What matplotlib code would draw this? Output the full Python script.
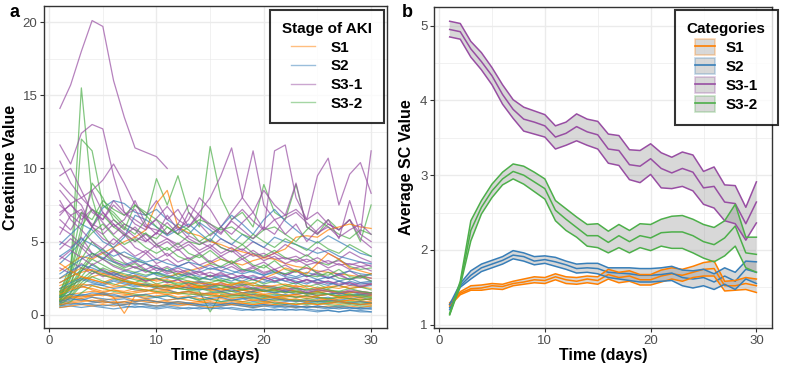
import matplotlib.pyplot as plt
import numpy as np
from matplotlib.lines import Line2D
from matplotlib.patches import Patch
from matplotlib.ticker import MultipleLocator

plt.rcParams['font.family'] = ['Liberation Sans', 'DejaVu Sans']

days = list(range(1, 31))
stages = ["S1", "S2", "S3-1", "S3-2"]
colors = {"S1": "#FF7F00", "S2": "#377EB8", "S3-1": "#984EA3", "S3-2": "#4DAF4A"}

# panel a: creatinine per patient, one row per patient
s1_pat = [
    "1.2 1.4 1.5 1.6 1.5 1.7 1.6 1.8 1.7 1.6 1.7 1.5 1.6 1.5 1.4 1.5 1.4 1.3 1.4 1.3 1.2 1.3 1.2 1.3 1.2 1.1 1.2 1.1 1.0 1.1",
    "0.8 0.9 1.0 0.9 0.8 0.9 0.8 0.9 1.0 0.9 0.8 0.9 0.8 0.9 0.8 0.8 0.9 0.8 0.7 0.8 0.7 0.8 0.7 0.8 0.7 0.8 0.7 0.8 0.7 0.7",
    "2.0 2.3 2.6 2.4 2.2 2.5 2.3 2.1 2.0 1.9 2.1 2.0 1.8 1.9 1.7 1.8 1.9 1.7 1.6 1.8 1.7 1.9 2.0 1.8 1.7 1.9 1.8 2.0 1.9 1.8",
    "1.5 1.8 2.0 1.7 1.5 1.2 0.1 1.3 1.4 1.5 1.6 1.4 1.5 1.3 1.4 1.2 1.3 1.4 1.2 1.3 1.1 1.2 1.3 1.1 1.2 1.0 1.1 1.2 1.0 1.1",
    "3.0 3.5 4.0 3.8 4.2 4.6 5.0 5.3 5.8 7.6 8.5 6.0 5.6 5.4 5.0 4.8 4.5 4.3 4.1 3.9 3.8 3.5 3.3 3.2 3.0 2.9 2.8 2.7 2.6 2.5",
    "1.8 2.0 2.4 2.6 2.8 3.0 2.7 2.5 2.3 2.4 2.6 2.8 3.0 3.2 3.5 3.8 3.6 3.4 3.7 3.9 4.2 4.5 5.3 5.4 5.3 5.8 6.0 6.2 6.0 5.9",
    "0.5 0.6 0.7 0.6 0.7 0.6 0.7 0.8 0.7 0.6 0.7 0.6 0.7 0.6 0.5 0.6 0.7 0.6 0.5 0.6 0.7 0.6 0.5 0.6 0.5 0.6 0.5 0.6 0.5 0.6",
    "1.0 1.2 1.1 1.3 1.4 1.2 1.3 1.5 1.6 1.8 1.7 1.9 2.0 1.8 1.7 1.6 1.8 1.5 1.6 1.4 1.5 1.3 1.4 1.5 1.3 1.4 1.2 1.3 1.4 1.3",
    "2.5 2.8 3.2 3.0 2.7 2.5 2.3 2.2 2.0 2.1 1.9 2.0 1.8 1.9 1.7 1.8 1.6 1.7 1.5 1.6 1.7 1.5 1.6 1.4 1.5 1.6 1.4 1.5 1.6 1.5",
    "0.9 1.1 1.3 1.2 1.0 1.1 1.2 1.0 1.1 0.9 1.0 1.1 1.0 0.9 1.0 1.1 1.0 0.9 1.0 0.9 1.0 1.1 0.9 1.0 0.9 1.0 0.9 1.0 0.9 0.9",
    "1.6 1.9 2.1 2.0 1.8 1.9 2.0 2.2 2.1 1.9 2.0 1.8 1.9 2.0 1.8 1.7 1.8 1.9 1.7 1.6 1.7 1.8 1.6 1.5 1.6 1.7 1.5 1.6 1.5 1.4",
    "1.1 1.3 1.2 1.4 1.3 1.5 1.4 1.3 1.2 1.3 1.4 1.2 1.3 1.1 1.2 1.3 1.1 1.2 1.0 1.1 1.2 1.0 1.1 0.9 1.0 1.1 0.9 1.0 1.1 1.0",
    "2.2 2.6 2.9 3.1 2.8 2.6 2.4 2.7 2.5 2.3 2.4 2.2 2.3 2.1 2.2 2.0 2.1 2.2 2.0 1.9 2.0 2.1 1.9 2.0 1.8 1.9 2.0 1.8 1.9 2.1",
    "0.7 0.8 0.9 1.0 0.9 0.8 0.9 1.0 0.9 0.8 0.9 0.8 0.7 0.8 0.9 0.8 0.7 0.8 0.7 0.8 0.9 0.8 0.7 0.8 0.7 0.8 0.9 0.8 0.7 0.8",
    "1.4 1.7 1.9 1.8 1.6 1.7 1.5 1.6 1.7 1.5 1.4 1.5 1.6 1.4 1.5 1.3 1.4 1.5 1.3 1.4 1.2 1.3 1.4 1.2 1.3 1.4 1.2 1.3 1.2 1.3",
    "3.5 3.0 2.6 2.4 2.2 2.0 2.3 2.1 1.9 2.0 1.8 1.9 2.1 1.9 2.0 2.2 2.0 2.3 2.1 2.5 2.8 3.2 3.0 2.8 3.5 4.2 3.8 3.2 3.0 2.8",
]
s2_pat = [
    "0.5 0.6 0.5 0.6 0.5 0.4 0.5 0.6 0.5 0.4 0.5 0.4 0.5 0.4 0.5 0.4 0.5 0.4 0.3 0.4 0.3 0.4 0.3 0.4 0.3 0.3 0.2 0.3 0.2 0.2",
    "1.3 1.6 1.9 2.1 2.0 1.8 1.9 1.7 1.6 1.8 1.7 1.5 1.6 1.4 1.5 1.6 1.4 1.3 1.4 1.2 1.3 1.4 1.2 1.3 1.1 1.2 1.0 1.1 1.2 1.0",
    "3.5 4.2 5.0 6.0 7.3 7.8 7.6 7.0 6.8 7.2 6.5 6.0 5.5 6.3 5.8 5.2 4.8 5.5 5.0 4.6 5.3 5.0 4.8 4.5 4.2 4.4 4.0 3.8 3.6 3.5",
    "0.8 1.0 1.1 0.9 1.0 0.8 0.9 0.7 0.8 0.9 0.8 0.7 0.8 0.7 0.6 0.7 0.8 0.7 0.6 0.7 0.6 0.5 0.6 0.5 0.6 0.5 0.4 0.5 0.4 0.4",
    "2.2 2.6 3.0 3.4 3.0 2.8 2.6 2.9 3.1 2.7 2.5 2.8 2.6 2.4 2.7 2.5 2.3 2.6 2.4 2.2 2.5 2.3 2.1 2.4 2.2 2.0 2.3 2.1 1.9 2.0",
    "4.8 5.5 6.2 5.8 5.0 4.6 5.3 6.8 6.5 6.0 5.4 5.8 6.2 5.6 5.0 6.0 6.8 6.2 5.5 6.5 7.2 6.4 5.8 5.2 4.9 5.4 5.0 4.6 4.2 4.0",
    "1.0 1.2 1.4 1.3 1.5 1.4 1.2 1.3 1.1 1.2 1.0 1.1 1.2 1.0 1.1 0.9 1.0 1.1 0.9 1.0 0.8 0.9 1.0 0.8 0.9 0.8 0.9 0.8 0.7 0.8",
    "1.6 2.0 2.4 2.2 2.0 2.3 2.1 1.9 2.0 1.8 1.9 2.0 1.8 1.7 1.9 1.8 1.6 1.7 1.8 1.6 1.5 1.7 1.6 1.5 1.6 1.4 1.5 1.6 1.4 1.5",
    "0.7 0.8 0.7 0.8 0.9 0.8 0.7 0.8 0.7 0.6 0.7 0.8 0.7 0.6 0.7 0.6 0.7 0.6 0.5 0.6 0.5 0.6 0.5 0.6 0.5 0.4 0.5 0.4 0.5 0.4",
    "2.8 3.3 3.8 4.2 3.9 3.6 3.4 3.7 3.5 3.2 3.0 3.3 3.1 2.9 3.2 3.0 2.8 3.1 2.9 2.7 3.0 2.8 2.6 2.9 2.7 2.5 2.8 3.0 2.8 2.7",
    "0.6 0.7 0.8 0.7 0.6 0.7 0.6 0.5 0.6 0.5 0.6 0.5 0.4 0.5 0.4 0.5 0.4 0.3 0.4 0.3 0.4 0.3 0.4 0.3 0.2 0.3 0.2 0.3 0.3 0.2",
    "1.8 2.2 2.5 2.3 2.1 2.4 2.2 2.0 2.1 1.9 2.0 1.8 1.9 1.7 1.8 1.6 1.7 1.5 1.6 1.7 1.5 1.6 1.4 1.5 1.3 1.4 1.5 1.3 1.4 1.3",
    "1.2 1.4 1.3 1.5 1.4 1.3 1.2 1.3 1.4 1.2 1.3 1.1 1.2 1.3 1.1 1.2 1.0 1.1 1.2 1.0 1.1 1.0 0.9 1.0 0.9 1.0 0.9 0.8 0.9 0.8",
    "4.0 4.5 5.2 4.8 4.4 4.0 4.3 3.9 3.6 3.8 3.5 3.3 3.6 3.4 3.1 3.3 3.0 2.8 3.0 2.7 2.9 2.6 2.5 2.7 2.4 2.6 2.3 2.5 2.2 2.3",
    "0.9 1.1 1.0 1.2 1.1 1.0 1.1 0.9 1.0 0.9 0.8 0.9 0.8 0.7 0.8 0.7 0.8 0.7 0.6 0.7 0.6 0.7 0.6 0.5 0.6 0.5 0.6 0.5 0.4 0.5",
    "2.5 3.0 3.4 3.2 2.9 2.7 3.0 2.8 2.6 2.9 2.7 2.5 2.8 2.6 2.4 2.7 2.5 2.3 2.6 2.4 2.2 2.5 2.3 2.1 2.4 2.2 2.0 2.3 2.1 2.2",
]
s31_pat = [
    "14.1 15.7 18.0 20.1 19.7 16.0 13.5 11.4 11.1 10.8 10.0",
    "11.6 10.3 12.4 13.0 12.7 9.5 7.0 6.5 6.0 5.8 5.5 6.0 5.2 4.8 5.1 4.6 4.3 4.5 4.0 4.2 3.8 3.9 3.6 3.8 3.5 3.7 3.4 3.5 3.3 3.4",
    "7.0 7.5 6.8 6.2 5.8 6.5 5.9 5.3 5.0 5.6 5.2 4.8 5.4 5.0 4.6 5.2 4.8 4.4 5.0 4.6 4.2 4.8 4.4 4.0 4.6 4.2 3.8 4.3 3.9 3.6",
    "10.5 9.0 8.0 8.5 9.2 10.3 9.0 7.5 6.8 7.8 6.5 7.2 6.0 7.0 8.0 9.5 11.4 8.0 7.0 8.5 7.5 6.8 7.2 6.5 7.0 6.2 5.8 6.5 5.5 5.0",
    "6.0 5.5 4.8 4.2 3.8 4.5 3.6 3.2 3.5 3.0 3.3 2.9 3.1 2.7 2.9 2.6 2.8 2.5 2.7 2.4 2.6 2.3 2.5 2.2 2.4 2.1 2.3 2.0 2.2 2.1",
    "8.5 7.6 6.5 7.2 6.3 5.5 6.2 5.8 5.0 5.6 6.3 5.5 7.0 6.2 5.4 6.0 7.0 8.0 11.2 7.5 6.5 6.8 9.0 6.0 5.5 6.2 5.8 6.5 5.2 4.6",
    "5.0 4.6 5.3 4.2 3.8 4.4 4.0 3.6 4.2 3.5 3.8 3.3 3.6 3.1 3.4 3.0 3.3 2.9 3.2 2.8 3.1 2.7 3.0 2.6 2.9 2.5 2.8 2.4 2.7 2.5",
    "9.5 10.0 8.5 7.0 6.5 7.5 6.8 7.2 6.0 6.5 5.5 6.2 7.5 6.8 6.0 5.5 6.5 7.2 6.4 5.8 11.2 11.6 8.0 6.5 9.5 10.7 7.5 9.6 10.4 8.3",
    "6.5 5.8 7.0 6.0 5.2 4.8 5.5 4.6 4.2 4.8 4.0 4.5 3.8 4.2 3.6 4.0 3.5 3.8 3.3 3.6 3.1 3.4 3.0 3.2 2.9 3.1 2.7 3.0 2.6 2.8",
    "4.0 3.6 3.2 2.8 3.1 2.7 2.4 2.6 2.3 2.5 2.2 2.4 2.1 2.3 2.0 2.2 1.9 2.1 1.8 2.0 1.9 1.7 1.9 1.6 1.8 1.7 1.5 1.7 1.6 1.5",
    "7.5 6.8 6.2 8.5 7.0 6.0 6.5 7.8 6.2 5.5 6.8 5.8 6.5 8.0 7.2 6.0 5.5 6.3 7.0 5.8 6.5 5.5 6.2 5.0 5.8 6.5 5.2 7.8 5.5 11.2",
    "3.2 2.8 3.5 3.0 2.6 2.9 2.5 2.7 2.3 2.5 2.2 2.4 2.0 2.2 1.9 2.1 1.8 2.0 1.7 1.9 1.8 1.6 1.8 1.5 1.7 1.6 1.4 1.6 1.5 1.4",
    "7.8 6.5 5.8 5.0 4.5 5.2 4.6 4.0 4.4 3.8 4.2 3.6 3.9 3.4 3.7 3.2 3.5 3.0 3.3 2.9 3.1 2.7 3.0 2.6 2.8 2.5 2.7 2.4 2.6 2.3",
    "5.5 6.8 7.2 6.0 5.5 6.2 5.6 5.0 5.5 4.8 5.2 4.6 5.0 4.4 4.8 4.2 4.6 4.0 4.4 3.9 4.2 3.8 4.0 3.6 3.9 3.5 3.7 3.4 3.6 3.3",
    "9.0 8.2 7.5 6.0 7.0 6.2 5.4 6.0 5.2 4.6 5.0 4.4 4.8 4.2 4.6 4.0 4.4 3.8 4.2 3.7 4.0 3.5 3.8 3.4 3.6 3.2 3.5 3.1 3.3 3.0",
    "4.5 5.2 4.6 3.9 4.3 3.7 3.3 3.6 3.1 3.4 2.9 3.2 2.8 3.0 2.6 2.9 2.5 2.7 2.4 2.6 2.3 2.5 2.2 2.4 2.1 2.3 2.0 2.2 1.9 2.1",
    "6.8 7.6 8.0 7.2 6.5 7.8 7.0 6.2 5.8 6.6 7.4 6.5 6.0 6.8 6.2 5.6 6.4 5.8 5.2 6.0 5.5 6.6 7.0 6.3 5.6 6.0 5.3 5.8 6.2 5.5",
    "3.8 4.4 3.9 3.4 3.8 3.3 3.0 3.3 2.9 3.2 2.8 3.0 2.7 2.9 2.6 2.8 2.5 2.7 2.4 2.6 2.3 2.5 2.2 2.4 2.2 2.3 2.1 2.2 2.0 2.1",
]
s32_pat = [
    "1.0 3.0 15.5 8.0 5.5 4.5 4.0 3.8 3.5 3.2 3.0 2.8 2.6 2.5 2.4 2.3 2.2 2.1 2.0 2.0 1.9 1.8 1.8 1.7 1.7 1.6 1.6 1.5 1.5 1.5",
    "1.2 2.5 12.0 11.2 7.5 6.8 6.0 5.5 6.5 9.3 7.5 9.5 7.0 6.0 11.5 8.0 6.5 7.0 6.0 8.9 7.0 6.5 8.9 6.0 5.5 6.5 5.8 6.5 5.0 7.5",
    "0.8 1.5 3.0 4.0 4.5 3.8 3.5 3.2 3.0 2.8 2.6 2.5 2.3 2.2 2.1 2.0 1.9 1.8 1.8 1.7 1.6 1.6 1.5 1.5 1.4 1.4 1.3 1.3 1.2 1.2",
    "1.1 2.0 4.5 6.0 7.5 7.0 6.2 5.8 5.5 5.2 6.0 5.5 5.0 4.8 5.2 4.6 4.3 4.8 4.2 4.0 4.4 3.9 3.7 4.1 3.6 3.4 3.8 3.3 3.1 3.2",
    "0.9 1.3 2.2 2.8 3.2 2.9 2.6 2.4 2.2 2.0 1.9 1.8 1.7 1.6 0.2 1.4 1.3 1.3 1.2 1.2 1.2 1.1 1.0 1.1 1.0 0.9 1.0 0.9 0.9 0.8",
    "1.4 2.8 5.5 9.0 8.0 6.5 5.8 7.5 6.8 6.0 5.5 6.2 5.8 5.0 5.5 6.0 5.2 4.8 5.5 5.0 4.6 5.2 4.8 4.4 5.0 4.5 4.2 4.8 4.4 4.0",
    "0.6 0.9 1.5 2.0 1.8 1.6 1.5 1.4 1.3 1.2 1.3 1.1 1.2 1.0 1.1 0.9 1.0 0.9 0.8 0.9 0.8 0.7 0.8 0.7 0.8 0.7 0.6 0.7 0.6 0.6",
    "1.3 2.2 3.8 5.0 4.2 3.6 3.2 3.5 3.0 2.8 3.2 2.6 2.9 2.4 2.7 2.3 2.5 2.2 2.4 2.1 2.3 2.0 2.2 1.9 2.1 1.8 2.0 1.8 1.9 1.7",
    "1.0 1.8 2.6 3.5 3.0 2.7 2.4 2.2 2.5 2.1 2.3 2.0 2.2 1.9 2.1 1.8 2.0 1.7 1.9 1.6 1.8 1.6 1.7 1.5 1.6 1.4 1.5 1.4 1.3 1.4",
    "1.5 3.5 7.0 6.5 7.8 7.2 6.8 7.5 7.0 6.5 6.0 5.5 6.0 6.5 6.2 5.8 6.0 5.5 5.2 5.8 6.0 5.5 5.0 5.8 6.5 6.0 5.5 5.2 5.8 5.5",
    "0.7 1.2 2.0 2.6 2.3 2.1 1.9 1.8 1.7 1.6 1.5 1.5 1.4 1.4 1.3 1.3 1.2 1.2 1.1 1.1 1.0 1.0 1.0 0.9 0.9 0.9 0.8 0.8 0.8 0.8",
    "1.2 2.0 3.2 4.2 3.8 3.4 3.1 2.9 2.7 2.9 2.6 2.4 2.6 2.3 2.2 2.4 2.1 2.0 2.2 1.9 1.8 2.0 1.8 1.7 1.9 1.7 1.6 1.8 1.6 1.5",
    "1.6 3.0 6.0 7.2 6.8 6.0 5.5 5.0 5.6 4.8 4.4 4.9 4.2 3.9 4.4 3.8 3.5 4.0 3.4 3.2 3.7 3.1 2.9 3.4 2.8 2.7 3.1 2.6 2.5 2.8",
    "0.9 1.5 2.4 3.0 2.7 2.5 2.3 2.1 2.0 1.9 2.0 1.8 1.7 1.8 1.6 1.5 1.6 1.4 1.5 1.3 1.4 1.3 1.2 1.3 1.2 1.1 1.2 1.1 1.0 1.1",
    "1.3 2.6 4.8 5.6 6.2 5.4 4.8 5.2 4.6 4.2 4.6 4.0 3.7 4.1 3.5 3.3 3.7 3.1 3.0 3.4 2.9 2.8 3.1 2.7 2.6 2.9 2.5 2.4 2.7 2.3",
    "1.0 1.9 3.0 3.8 3.4 3.0 2.8 2.6 2.4 2.5 2.3 2.1 2.2 2.0 1.9 2.0 1.8 1.7 1.8 1.6 1.7 1.5 1.6 1.4 1.5 1.4 1.3 1.4 1.3 1.2",
]

# panel b: mean and band per stage
s1_mean = [1.27, 1.42, 1.48, 1.49, 1.52, 1.51, 1.55, 1.57, 1.60, 1.59, 1.64, 1.60, 1.58, 1.61, 1.59,
           1.67, 1.63, 1.65, 1.60, 1.60, 1.65, 1.68, 1.66, 1.70, 1.74, 1.75, 1.52, 1.52, 1.55, 1.52]
s1_up = [1.29, 1.44, 1.52, 1.53, 1.55, 1.54, 1.58, 1.61, 1.64, 1.63, 1.68, 1.64, 1.63, 1.65, 1.64,
         1.74, 1.70, 1.72, 1.67, 1.67, 1.73, 1.76, 1.74, 1.78, 1.83, 1.85, 1.58, 1.59, 1.63, 1.61]
s1_lo = [1.25, 1.40, 1.46, 1.46, 1.48, 1.47, 1.52, 1.54, 1.56, 1.55, 1.60, 1.55, 1.54, 1.56, 1.54,
         1.61, 1.56, 1.58, 1.53, 1.53, 1.57, 1.61, 1.58, 1.63, 1.65, 1.65, 1.45, 1.46, 1.47, 1.43]
s2_mean = [1.23, 1.52, 1.66, 1.76, 1.81, 1.86, 1.93, 1.91, 1.85, 1.87, 1.84, 1.80, 1.75, 1.76, 1.75,
           1.70, 1.69, 1.68, 1.66, 1.66, 1.67, 1.69, 1.63, 1.61, 1.63, 1.57, 1.65, 1.58, 1.74, 1.70]
s2_up = [1.27, 1.55, 1.72, 1.81, 1.86, 1.91, 1.99, 1.96, 1.91, 1.92, 1.90, 1.85, 1.81, 1.82, 1.82,
         1.76, 1.76, 1.76, 1.75, 1.75, 1.76, 1.78, 1.73, 1.72, 1.74, 1.68, 1.76, 1.70, 1.85, 1.84]
s2_lo = [1.20, 1.50, 1.61, 1.71, 1.76, 1.81, 1.88, 1.85, 1.80, 1.82, 1.78, 1.74, 1.69, 1.70, 1.68,
         1.63, 1.61, 1.59, 1.57, 1.57, 1.58, 1.59, 1.52, 1.49, 1.52, 1.47, 1.54, 1.47, 1.61, 1.55]
s31_mean = [4.95, 4.92, 4.69, 4.52, 4.33, 4.08, 3.88, 3.75, 3.71, 3.66, 3.51, 3.56, 3.65, 3.58, 3.54,
            3.35, 3.33, 3.14, 3.12, 3.22, 3.09, 3.03, 3.09, 3.04, 2.83, 2.85, 2.64, 2.62, 2.35, 2.64]
s31_up = [5.06, 5.03, 4.79, 4.64, 4.44, 4.21, 4.01, 3.91, 3.86, 3.81, 3.66, 3.71, 3.82, 3.75, 3.72,
          3.55, 3.53, 3.34, 3.33, 3.42, 3.30, 3.24, 3.31, 3.27, 3.05, 3.11, 2.87, 2.86, 2.57, 2.91]
s31_lo = [4.85, 4.82, 4.58, 4.41, 4.21, 3.95, 3.76, 3.59, 3.55, 3.51, 3.35, 3.40, 3.46, 3.40, 3.35,
          3.16, 3.13, 2.94, 2.90, 3.01, 2.83, 2.82, 2.85, 2.79, 2.61, 2.56, 2.39, 2.35, 2.13, 2.36]
s32_mean = [1.14, 1.55, 2.26, 2.57, 2.79, 2.95, 3.05, 3.00, 2.91, 2.82, 2.53, 2.41, 2.30, 2.19, 2.19,
            2.10, 2.19, 2.11, 2.19, 2.16, 2.23, 2.24, 2.24, 2.19, 2.11, 2.07, 2.16, 2.32, 1.96, 1.94]
s32_up = [1.15, 1.58, 2.39, 2.66, 2.88, 3.04, 3.15, 3.12, 3.04, 2.95, 2.66, 2.55, 2.44, 2.34, 2.35,
          2.25, 2.34, 2.26, 2.35, 2.34, 2.41, 2.45, 2.46, 2.41, 2.34, 2.30, 2.39, 2.61, 2.17, 2.17]
s32_lo = [1.13, 1.52, 2.12, 2.48, 2.70, 2.87, 2.95, 2.88, 2.78, 2.68, 2.39, 2.26, 2.17, 2.05, 2.03,
          1.96, 2.03, 1.96, 2.03, 1.99, 2.05, 2.02, 2.02, 1.96, 1.89, 1.84, 1.92, 2.05, 1.76, 1.70]

patients = {"S1": s1_pat, "S2": s2_pat, "S3-1": s31_pat, "S3-2": s32_pat}
means = {"S1": (s1_mean, s1_lo, s1_up), "S2": (s2_mean, s2_lo, s2_up),
         "S3-1": (s31_mean, s31_lo, s31_up), "S3-2": (s32_mean, s32_lo, s32_up)}


def style_axes(ax, ymajor, yminor):
    ax.xaxis.set_major_locator(MultipleLocator(10))
    ax.xaxis.set_minor_locator(MultipleLocator(5))
    ax.yaxis.set_major_locator(MultipleLocator(ymajor))
    ax.yaxis.set_minor_locator(MultipleLocator(yminor))
    ax.grid(which="major", color="#EBEBEB", lw=1.0)
    ax.grid(which="minor", color="#EBEBEB", lw=0.5)
    ax.set_axisbelow(True)
    ax.tick_params(which="major", length=3, width=0.8, color="#333333",
                   labelcolor="#4D4D4D", labelsize=9.5, pad=2)
    ax.tick_params(which="minor", length=0)
    for sp in ax.spines.values():
        sp.set_color("#333333")
        sp.set_linewidth(1.0)
    ax.set_xlim(-0.45, 31.45)
    ax.set_xlabel("Time (days)", fontsize=11.5, fontweight="bold", labelpad=1)


def style_legend(leg):
    leg.get_title().set_fontweight("bold")
    leg.get_title().set_fontsize(11)
    leg.get_frame().set_edgecolor("black")
    leg.get_frame().set_linewidth(1.5)


fig = plt.figure(figsize=(7.89, 3.71), dpi=100)
ax1 = fig.add_axes([0.0562, 0.116, 0.4339, 0.868])
ax2 = fig.add_axes([0.5505, 0.116, 0.4276, 0.866])

# interleave patients so no stage sits fully on top
n = max(len(v) for v in patients.values())
for i in range(n):
    for st in ["S3-1", "S2", "S3-2", "S1"]:
        rows = patients[st]
        if i < len(rows):
            vals = [float(v) for v in rows[i].split()]
            ax1.plot(days[:len(vals)], vals, color=colors[st], lw=0.9, alpha=0.7)

style_axes(ax1, 5, 2.5)
ax1.set_ylim(-0.9, 21.1)
ax1.set_ylabel("Creatinine Value", fontsize=11.5, fontweight="bold", labelpad=3)

h1 = [Line2D([], [], color=colors[st], lw=1.0, alpha=0.5) for st in stages]
leg1 = fig.legend(h1, stages, title="Stage of AKI", loc="upper right",
                  bbox_to_anchor=(0.4867, 0.973), borderaxespad=0, frameon=True,
                  fancybox=False, prop={"weight": "bold", "size": 11}, handlelength=1.6,
                  handletextpad=1.0, labelspacing=0.3, borderpad=0.8)
style_legend(leg1)

# panel b: lines first, grey band drawn over them
for st in stages:
    m, lo, up = means[st]
    ax2.plot(days, m, color=colors[st], lw=1.1)
for st in stages:
    m, lo, up = means[st]
    ax2.fill_between(days, lo, up, facecolor="grey", alpha=0.3, lw=0)
    ax2.plot(days, lo, color=colors[st], lw=1.1)
    ax2.plot(days, up, color=colors[st], lw=1.1)

style_axes(ax2, 1, 0.5)
ax2.set_ylim(0.955, 5.255)
ax2.set_ylabel("Average SC Value", fontsize=11.5, fontweight="bold", labelpad=4)

h2 = [(Patch(facecolor="grey", alpha=0.3, edgecolor=colors[st], lw=1.2),
       Line2D([], [], color=colors[st], lw=1.2)) for st in stages]
leg2 = fig.legend(h2, stages, title="Categories", loc="upper right",
                  bbox_to_anchor=(0.986, 0.973), borderaxespad=0, frameon=True,
                  fancybox=False, prop={"weight": "bold", "size": 11}, handlelength=1.3,
                  handleheight=1.2, handletextpad=0.7, labelspacing=0.2, borderpad=0.8)
style_legend(leg2)

fig.text(0.012, 0.965, "a", fontsize=13, fontweight="bold", va="center")
fig.text(0.509, 0.965, "b", fontsize=13, fontweight="bold", va="center")

fig.savefig("out.png", dpi=100)
